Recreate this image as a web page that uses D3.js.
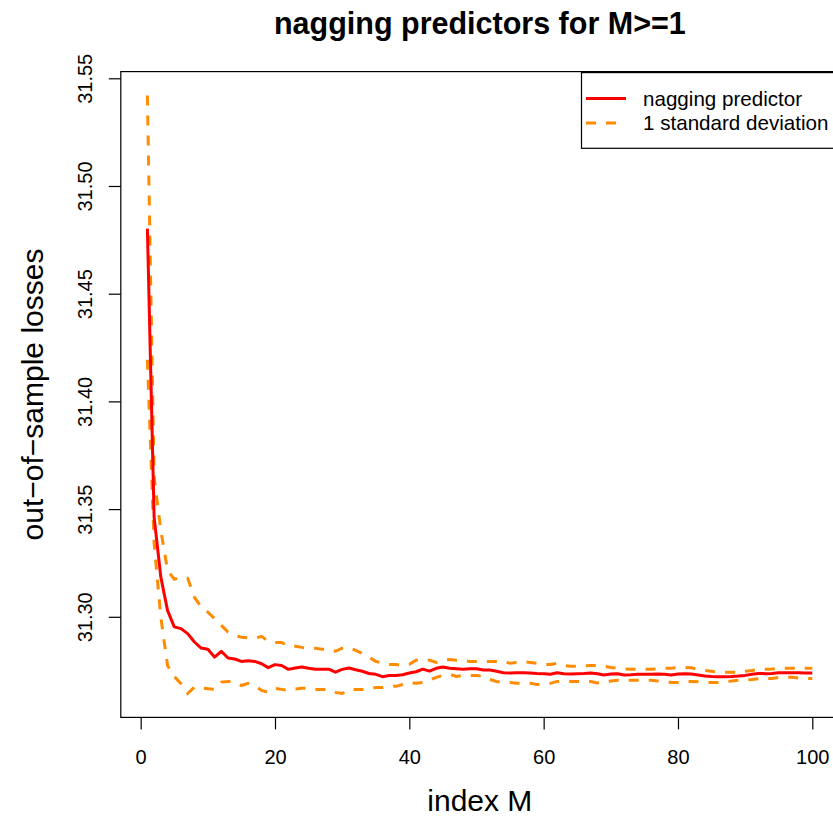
<!DOCTYPE html>
<html>
<head>
<meta charset="utf-8">
<script src="https://cdn.jsdelivr.net/npm/d3@7"></script>
<style>
  html, body { margin: 0; padding: 0; background: #ffffff; }
  svg { display: block; font-family: "Liberation Sans", Arial, Helvetica, sans-serif; }
</style>
</head>
<body>
<div id="chart"></div>
<script>
// ---------------- data ----------------
const titleText = "nagging predictors for M>=1";
const xLabel = "index M";
const yLabel = "out\u2212of\u2212sample losses";
const legendLabels = ["nagging predictor", "1 standard deviation"];
const xTicks = [0, 20, 40, 60, 80, 100];
const yTicks = [31.30, 31.35, 31.40, 31.45, 31.50, 31.55];

// index M = 1..100
const nagging = [
  31.4802, 31.3463, 31.3184, 31.3030, 31.2953, 31.2945, 31.2922, 31.2883, 31.2855, 31.2849,
  31.2813, 31.2840, 31.2809, 31.2804, 31.2793, 31.2796, 31.2793, 31.2782, 31.2764, 31.2778,
  31.2774, 31.2756, 31.2762, 31.2767, 31.2761, 31.2756, 31.2756, 31.2757, 31.2743, 31.2756,
  31.2762, 31.2754, 31.2747, 31.2737, 31.2733, 31.2722, 31.2727, 31.2728, 31.2731, 31.2739,
  31.2745, 31.2757, 31.2748, 31.2761, 31.2767, 31.2761, 31.2759, 31.2757, 31.2759, 31.2759,
  31.2753, 31.2753, 31.2747, 31.2740, 31.2739, 31.2740, 31.2740, 31.2739, 31.2737, 31.2736,
  31.2733, 31.2740, 31.2736, 31.2734, 31.2736, 31.2737, 31.2739, 31.2736, 31.2730, 31.2734,
  31.2736, 31.2730, 31.2731, 31.2733, 31.2733, 31.2733, 31.2734, 31.2733, 31.2730, 31.2734,
  31.2736, 31.2734, 31.2730, 31.2725, 31.2723, 31.2722, 31.2722, 31.2723, 31.2725, 31.2728,
  31.2733, 31.2737, 31.2736, 31.2737, 31.2740, 31.2740, 31.2740, 31.2740, 31.2739, 31.2739
];
const upperSD = [
  31.5420, 31.3649, 31.3402, 31.3216, 31.3174, 31.3184, 31.3179, 31.3091, 31.3046, 31.3022,
  31.2992, 31.2960, 31.2929, 31.2914, 31.2905, 31.2902, 31.2900, 31.2909, 31.2886, 31.2881,
  31.2881, 31.2863, 31.2863, 31.2858, 31.2854, 31.2854, 31.2849, 31.2849, 31.2840, 31.2854,
  31.2858, 31.2844, 31.2830, 31.2812, 31.2793, 31.2784, 31.2779, 31.2779, 31.2774, 31.2779,
  31.2798, 31.2802, 31.2798, 31.2788, 31.2798, 31.2802, 31.2798, 31.2798, 31.2793, 31.2793,
  31.2793, 31.2793, 31.2793, 31.2793, 31.2784, 31.2788, 31.2791, 31.2788, 31.2784, 31.2779,
  31.2779, 31.2784, 31.2774, 31.2770, 31.2770, 31.2772, 31.2774, 31.2774, 31.2770, 31.2765,
  31.2761, 31.2758, 31.2756, 31.2756, 31.2756, 31.2756, 31.2758, 31.2761, 31.2761, 31.2765,
  31.2765, 31.2763, 31.2756, 31.2751, 31.2747, 31.2742, 31.2742, 31.2742, 31.2742, 31.2747,
  31.2751, 31.2756, 31.2756, 31.2758, 31.2761, 31.2761, 31.2761, 31.2761, 31.2761, 31.2761
];
const lowerSD = [
  31.4193, 31.3342, 31.2998, 31.2774, 31.2723, 31.2689, 31.2644, 31.2674, 31.2669, 31.2666,
  31.2663, 31.2697, 31.2700, 31.2698, 31.2681, 31.2691, 31.2681, 31.2658, 31.2649, 31.2668,
  31.2663, 31.2658, 31.2665, 31.2668, 31.2668, 31.2663, 31.2663, 31.2663, 31.2649, 31.2644,
  31.2663, 31.2663, 31.2663, 31.2663, 31.2672, 31.2672, 31.2677, 31.2677, 31.2686, 31.2695,
  31.2691, 31.2695, 31.2705, 31.2719, 31.2728, 31.2733, 31.2723, 31.2728, 31.2728, 31.2728,
  31.2723, 31.2709, 31.2700, 31.2695, 31.2695, 31.2691, 31.2691, 31.2691, 31.2686, 31.2686,
  31.2691, 31.2700, 31.2700, 31.2700, 31.2700, 31.2698, 31.2700, 31.2693, 31.2695, 31.2702,
  31.2705, 31.2705, 31.2705, 31.2705, 31.2705, 31.2705, 31.2702, 31.2700, 31.2695, 31.2695,
  31.2700, 31.2700, 31.2698, 31.2695, 31.2695, 31.2695, 31.2700, 31.2702, 31.2705, 31.2707,
  31.2709, 31.2712, 31.2714, 31.2714, 31.2719, 31.2719, 31.2719, 31.2716, 31.2714, 31.2714
];
const indexM = nagging.map((_, i) => i + 1);

// ---------------- layout ----------------
const W = 833, H = 816;
const plot = { left: 120.8, right: 838.9, top: 71.6, bottom: 717.4 };

const svg = d3.select("#chart").append("svg")
  .attr("width", W).attr("height", H);

// R-style 4% domain extension
function rRange(ext) {
  const d = (ext[1] - ext[0]) * 0.04;
  return [ext[0] - d, ext[1] + d];
}
const xExt = d3.extent(indexM);
const yExt = [d3.min(lowerSD.concat(nagging, upperSD)), d3.max(lowerSD.concat(nagging, upperSD))];

const x = d3.scaleLinear().domain(rRange(xExt)).range([plot.left, plot.right]);
const y = d3.scaleLinear().domain(rRange(yExt)).range([plot.bottom, plot.top]);

// ---------------- lines ----------------
const line = d3.line().x((d, i) => x(indexM[i])).y(d => y(d));

svg.append("path").datum(upperSD)
  .attr("d", line).attr("fill", "none")
  .attr("stroke", "#FF8C00").attr("stroke-width", 3)
  .attr("stroke-dasharray", "10,10");
svg.append("path").datum(lowerSD)
  .attr("d", line).attr("fill", "none")
  .attr("stroke", "#FF8C00").attr("stroke-width", 3)
  .attr("stroke-dasharray", "10,10");
svg.append("path").datum(nagging)
  .attr("d", line).attr("fill", "none")
  .attr("stroke", "#FF0000").attr("stroke-width", 3)
  .attr("stroke-linejoin", "round");

// ---------------- box ----------------
svg.append("rect")
  .attr("x", plot.left).attr("y", plot.top)
  .attr("width", plot.right - plot.left).attr("height", plot.bottom - plot.top)
  .attr("fill", "none").attr("stroke", "#000").attr("stroke-width", 1.2);

// ---------------- axes ----------------
const xAxis = d3.axisBottom(x).tickValues(xTicks).tickSize(12).tickPadding(20)
  .tickFormat(d3.format("d"));
const gx = svg.append("g").attr("transform", `translate(0,${plot.bottom})`).call(xAxis);
gx.select(".domain").remove();
gx.selectAll(".tick line").attr("stroke", "#000").attr("stroke-width", 1.2);
gx.selectAll(".tick text").attr("font-size", 20).attr("fill", "#000")
  .attr("font-family", "Liberation Sans, Arial, sans-serif")
  .attr("dy", null).attr("y", 46.5);

const yAxis = d3.axisLeft(y).tickValues(yTicks).tickSize(12).tickFormat(d3.format(".2f"));
const gy = svg.append("g").attr("transform", `translate(${plot.left},0)`).call(yAxis);
gy.select(".domain").remove();
gy.selectAll(".tick line").attr("stroke", "#000").attr("stroke-width", 1.2);
gy.selectAll(".tick text")
  .attr("font-size", 20).attr("fill", "#000")
  .attr("font-family", "Liberation Sans, Arial, sans-serif")
  .attr("x", null).attr("dy", null)
  .attr("text-anchor", "middle")
  .attr("transform", `translate(${92 - plot.left},0) rotate(-90)`);

// ---------------- titles ----------------
svg.append("text")
  .attr("x", (plot.left + plot.right) / 2).attr("y", 34)
  .attr("text-anchor", "middle").attr("font-size", 30.5).attr("font-weight", "bold")
  .attr("fill", "#000").text(titleText);

svg.append("text")
  .attr("x", (plot.left + plot.right) / 2).attr("y", 811)
  .attr("text-anchor", "middle").attr("font-size", 30)
  .attr("fill", "#000").text(xLabel);

svg.append("text")
  .attr("transform", `translate(43,${(plot.top + plot.bottom) / 2}) rotate(-90)`)
  .attr("text-anchor", "middle").attr("font-size", 30)
  .attr("fill", "#000").text(yLabel);

// ---------------- legend ----------------
const lg = svg.append("g");
lg.append("rect")
  .attr("x", 581.5).attr("y", plot.top + 1)
  .attr("width", plot.right - 581.5).attr("height", 148.3 - plot.top - 1)
  .attr("fill", "#fff").attr("stroke", "#000").attr("stroke-width", 1.2);
const legendColors = ["#FF0000", "#FF8C00"];
const legendDash = [null, "10,10"];
const legendY = [98.5, 123];
legendLabels.forEach((lab, i) => {
  lg.append("line")
    .attr("x1", 586).attr("x2", 626)
    .attr("y1", legendY[i]).attr("y2", legendY[i])
    .attr("stroke", legendColors[i]).attr("stroke-width", 3)
    .attr("stroke-dasharray", legendDash[i]);
  lg.append("text")
    .attr("x", 643).attr("y", legendY[i] + 7.4)
    .attr("font-size", 20.6).attr("fill", "#000").text(lab);
});
</script>
</body>
</html>
